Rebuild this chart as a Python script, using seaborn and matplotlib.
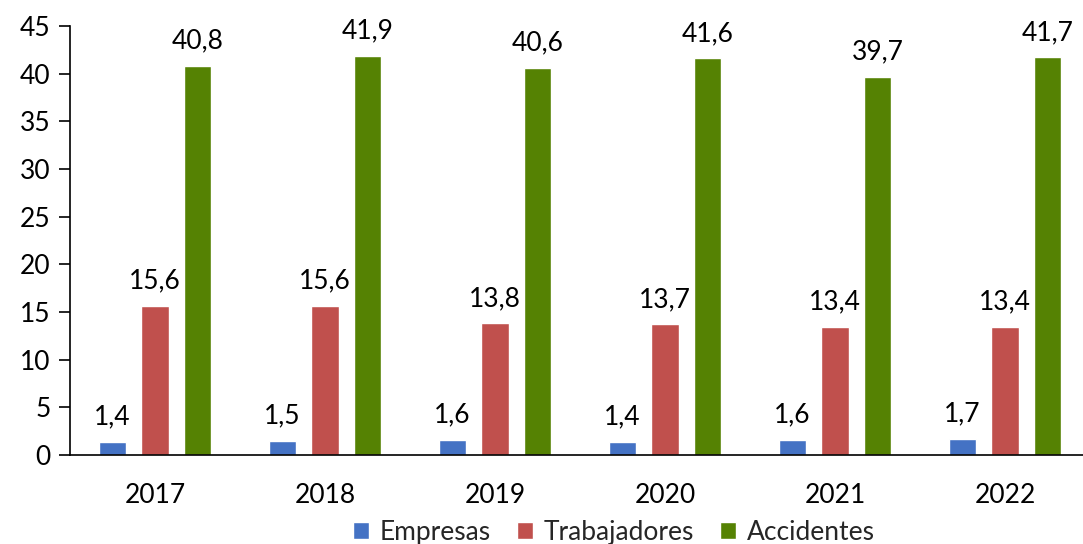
import matplotlib
matplotlib.use("Agg")
import matplotlib.pyplot as plt
import pandas as pd
import seaborn as sns
from matplotlib.patches import Patch
from matplotlib.ticker import FixedLocator

# ── Datos ────────────────────────────────────────────────────────────────────
YEARS        = ["2017", "2018", "2019", "2020", "2021", "2022"]
EMPRESAS     = [1.4, 1.5, 1.6, 1.4, 1.6, 1.7]
TRABAJADORES = [15.6, 15.6, 13.8, 13.7, 13.4, 13.4]
ACCIDENTES   = [40.8, 41.9, 40.6, 41.6, 39.7, 41.7]
SERIES       = ["Empresas", "Trabajadores", "Accidentes"]
COLORS       = ["#4472C4", "#C0504D", "#558203"]

FS = 19

df = pd.DataFrame({
    "year":  YEARS * 3,
    "serie": [s for s in SERIES for _ in YEARS],
    "valor": EMPRESAS + TRABAJADORES + ACCIDENTES,
})

sns.set_theme(style="white")
plt.rcParams["font.family"] = ["Lato", "DejaVu Sans"]

fig = plt.figure(figsize=(10.83, 5.44), dpi=100)
ax = fig.add_axes([70 / 1083, 89 / 544, 1020 / 1083, 429 / 544])

sns.barplot(data=df, x="year", y="valor", hue="serie", hue_order=SERIES,
            palette=COLORS, width=0.75, gap=0.35, saturation=1,
            legend=False, ax=ax)

for cont in ax.containers:
    ax.bar_label(cont, labels=[f"{v:.1f}".replace(".", ",") for v in cont.datavalues],
                 padding=9, fontsize=FS, color="black")

ax.set_xlim(-0.5, 5.5)
ax.set_ylim(0, 45)
ax.set_yticks(range(0, 46, 5))
ax.set_xlabel(""); ax.set_ylabel("")

# ticks en los límites de cada categoría
ax.xaxis.set_minor_locator(FixedLocator([i - 0.5 for i in range(len(YEARS) + 1)]))
ax.tick_params(axis="x", which="major", length=0, pad=20, labelsize=FS, colors="black")
ax.tick_params(axis="x", which="minor", length=8, width=1.2, color="black", direction="out")
ax.tick_params(axis="y", length=8, width=1.2, color="black", direction="out",
               labelsize=FS, labelcolor="black", left=True, pad=6)

for side in ["top", "right"]:
    ax.spines[side].set_visible(False)
for side in ["left", "bottom"]:
    ax.spines[side].set_color("black")
    ax.spines[side].set_linewidth(1.2)

handles = [Patch(facecolor=c, label=s) for s, c in zip(SERIES, COLORS)]
fig.legend(handles=handles, loc="center", bbox_to_anchor=(0.567, 0.022), ncol=3,
           frameon=False, fontsize=FS, handlelength=0.6, handleheight=0.6,
           handletextpad=0.4, columnspacing=1.0)

fig.savefig("out.png", dpi=100)
